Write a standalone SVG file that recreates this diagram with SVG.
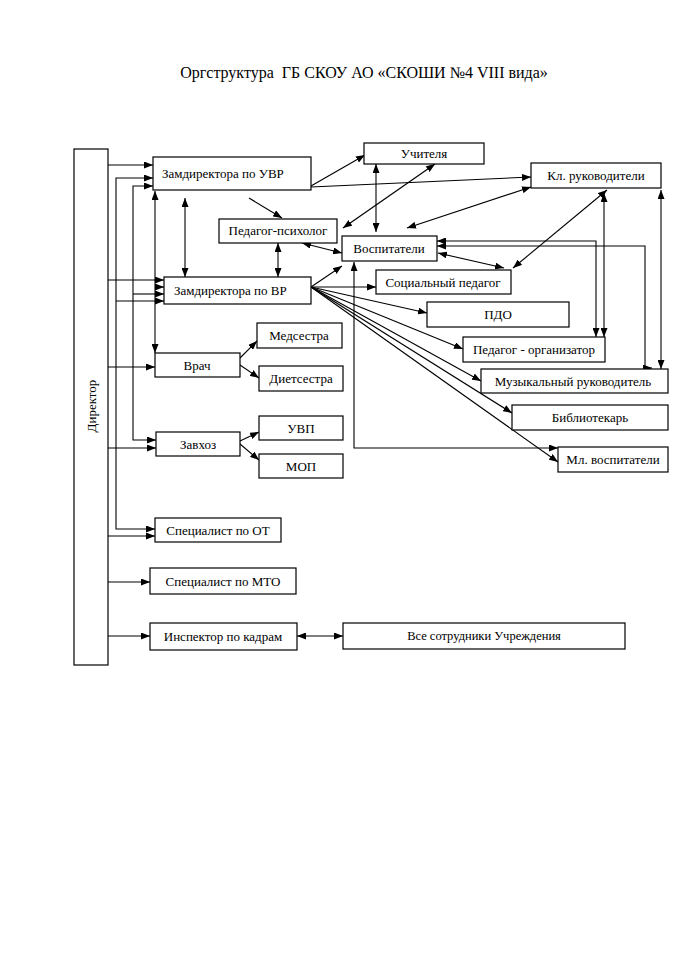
<svg xmlns="http://www.w3.org/2000/svg" width="700" height="980" viewBox="0 0 700 980">
<style>
.b{fill:#fff;stroke:#000;stroke-width:1.2}
.t{font-family:"Liberation Serif","Times New Roman",serif;font-size:13px;fill:#000}
.c{text-anchor:middle}
.l{fill:none;stroke:#000;stroke-width:1.1}
.e{marker-end:url(#a)}
.s{marker-start:url(#a)}
</style>
<defs>
<marker id="a" markerUnits="userSpaceOnUse" markerWidth="9" markerHeight="7" refX="9" refY="3.5" orient="auto-start-reverse" viewBox="0 0 9 7">
<path d="M0,0 L9,3.5 L0,7 z" fill="#000"/>
</marker>
</defs>
<rect width="700" height="980" fill="#fff"/>
<text x="364" y="78" class="t c" style="font-size:16px" xml:space="preserve">Оргструктура  ГБ СКОУ АО «СКОШИ №4 VIII вида»</text>

<g id="connectors">
<path class="l e" d="M108,165 H153"/>
<path class="l e s" d="M153,178 H116 V529 H155"/>
<path class="l e" d="M116,301 H164"/>
<path class="l e s" d="M153,186 H133 V440 H156"/>
<path class="l e" d="M133,294 H164"/>
<path class="l e s" d="M155,191 V353"/>
<path class="l e" d="M155,287 H164"/>
<path class="l e" d="M108,280 H164"/>
<path class="l e" d="M108,367 H155"/>
<path class="l e" d="M108,448 H156"/>
<path class="l e" d="M108,536 H155"/>
<path class="l e" d="M108,582 H150"/>
<path class="l e" d="M108,636 H150"/>
<path class="l e" d="M311,186 L365,155"/>
<path class="l e" d="M311,187 L531,177"/>
<path class="l e" d="M249,198 L282,218"/>
<path class="l e s" d="M185,198 V277"/>
<path class="l e s" d="M278,243 V277"/>
<path class="l e s" d="M302,243 L342,253"/>
<path class="l e s" d="M376,164 V232"/>
<path class="l e s" d="M435,164 L343,228"/>
<path class="l e s" d="M531,187 L407,228"/>
<path class="l e s" d="M607,190 L513,268"/>
<path class="l e s" d="M438,253 L504,268"/>
<path class="l e s" d="M596,337 V241 H437"/>
<path class="l e s" d="M652,368 H645 V246 H437"/>
<path class="l e s" d="M604,193 V337"/>
<path class="l e s" d="M661,190 V369"/>
<path class="l e s" d="M354,262 V448 H558"/>
<path class="l e" d="M311,287 L342,266"/>
<path class="l e" d="M311,287 H376"/>
<path class="l e" d="M311,287 L427,313"/>
<path class="l e" d="M311,287 L463,349"/>
<path class="l e" d="M311,287 L481,381"/>
<path class="l e" d="M311,287 L512,413"/>
<path class="l e" d="M311,287 L558,462"/>
<path class="l e" d="M240,358 L257,341"/>
<path class="l e" d="M240,365 L259,378"/>
<path class="l e" d="M240,441 L259,432"/>
<path class="l e" d="M240,444 L259,460"/>
<path class="l e s" d="M297,636 H343"/>
</g>

<g id="director"><rect class="b" x="74" y="149" width="34" height="516"/><text class="t c" transform="translate(96,406) rotate(-90)">Директор</text></g>
<g id="uvr"><rect class="b" x="153" y="157" width="158" height="33"/><text class="t" x="162" y="178">Замдиректора по УВР</text></g>
<g id="psych"><rect class="b" x="219" y="219" width="118" height="24"/><text class="t c" x="278" y="235">Педагог-психолог</text></g>
<g id="vosp"><rect class="b" x="342" y="236" width="95" height="25"/><text class="t c" x="389" y="253">Воспитатели</text></g>
<g id="uchit"><rect class="b" x="364" y="143" width="120" height="21"/><text class="t c" x="424" y="158">Учителя</text></g>
<g id="klruk"><rect class="b" x="531" y="163" width="130" height="25"/><text class="t c" x="596" y="180">Кл. руководители</text></g>
<g id="soc"><rect class="b" x="376" y="270" width="135" height="24"/><text class="t c" x="443" y="287">Социальный педагог</text></g>
<g id="vr"><rect class="b" x="164" y="277" width="147" height="27"/><text class="t" x="174" y="295">Замдиректора по ВР</text></g>
<g id="pdo"><rect class="b" x="427" y="302" width="142" height="25"/><text class="t c" x="498" y="319">ПДО</text></g>
<g id="pedorg"><rect class="b" x="463" y="337" width="142" height="25"/><text class="t c" x="534" y="354">Педагог - организатор</text></g>
<g id="muz"><rect class="b" x="481" y="369" width="187" height="24"/><text class="t c" x="573" y="386">Музыкальный руководитель</text></g>
<g id="bibl"><rect class="b" x="512" y="405" width="156" height="25"/><text class="t c" x="590" y="422">Библиотекарь</text></g>
<g id="mlvosp"><rect class="b" x="558" y="447" width="110" height="25"/><text class="t c" x="613" y="464">Мл. воспитатели</text></g>
<g id="vrach"><rect class="b" x="155" y="353" width="85" height="24"/><text class="t c" x="197" y="370">Врач</text></g>
<g id="medses"><rect class="b" x="257" y="323" width="85" height="25"/><text class="t c" x="299" y="340">Медсестра</text></g>
<g id="dietses"><rect class="b" x="259" y="366" width="84" height="25"/><text class="t c" x="301" y="383">Диетсестра</text></g>
<g id="zavhoz"><rect class="b" x="156" y="432" width="84" height="24"/><text class="t c" x="198" y="449">Завхоз</text></g>
<g id="uvp"><rect class="b" x="259" y="416" width="84" height="24"/><text class="t c" x="301" y="433">УВП</text></g>
<g id="mop"><rect class="b" x="259" y="454" width="84" height="24"/><text class="t c" x="301" y="471">МОП</text></g>
<g id="specot"><rect class="b" x="155" y="518" width="126" height="24"/><text class="t c" x="218" y="535">Специалист по ОТ</text></g>
<g id="specmto"><rect class="b" x="150" y="568" width="146" height="26"/><text class="t c" x="223" y="586">Специалист по МТО</text></g>
<g id="insp"><rect class="b" x="150" y="623" width="147" height="27"/><text class="t c" x="223" y="641">Инспектор по кадрам</text></g>
<g id="all"><rect class="b" x="343" y="623" width="282" height="26"/><text class="t c" x="484" y="640" style="font-size:12.5px">Все сотрудники Учреждения</text></g>
</svg>
